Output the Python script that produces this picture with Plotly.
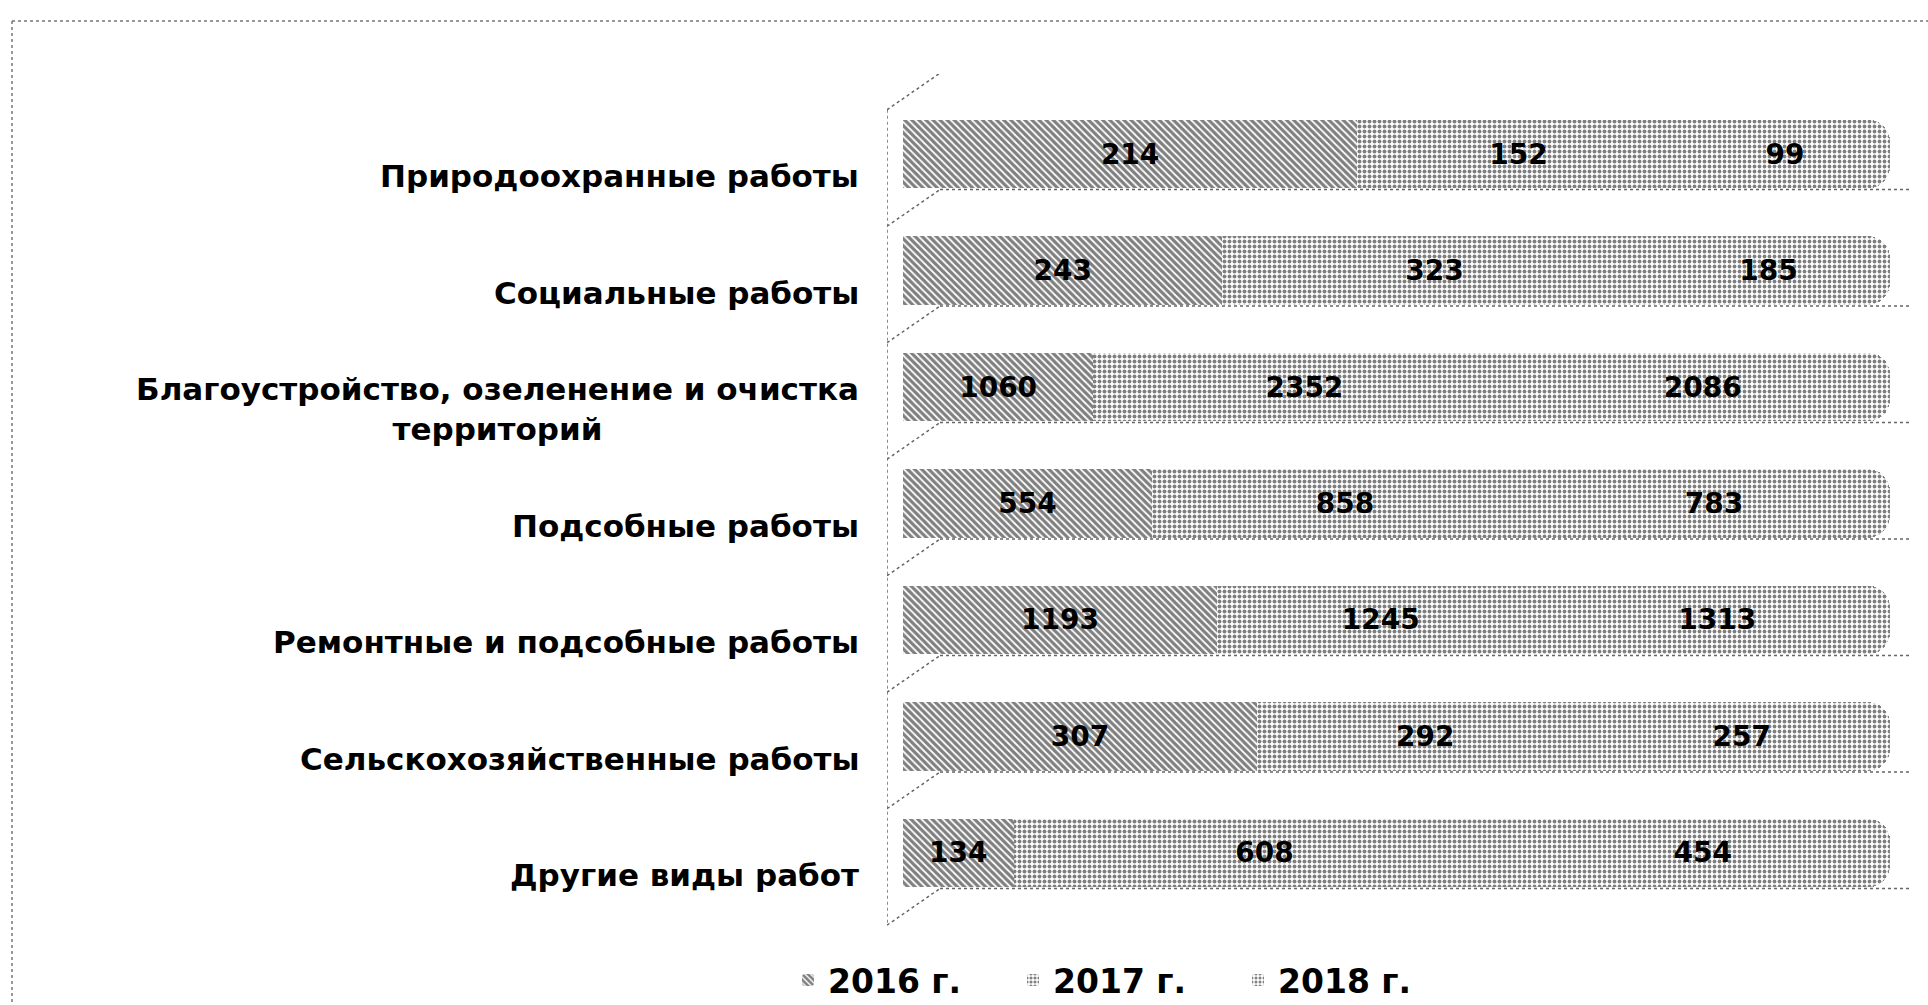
import plotly.graph_objects as go

categories = [
    "Природоохранные работы",
    "Социальные работы",
    "Благоустройство, озеленение и очистка<br>территорий",
    "Подсобные работы",
    "Ремонтные и подсобные работы",
    "Сельскохозяйственные работы",
    "Другие виды работ",
]
years = ["2016 г.", "2017 г.", "2018 г."]
v2016 = [214, 243, 1060, 554, 1193, 307, 134]
v2017 = [152, 323, 2352, 858, 1245, 292, 608]
v2018 = [99, 185, 2086, 783, 1313, 257, 454]
series = [v2016, v2017, v2018]

patterns = [
    dict(shape="\\", fgcolor="#000000", bgcolor="#ffffff", size=5, solidity=0.65),
    dict(shape=".", fgcolor="#000000", bgcolor="#ffffff", size=5, solidity=0.5),
    dict(shape=".", fgcolor="#000000", bgcolor="#ffffff", size=5, solidity=0.46),
]

W, H = 1928, 1005
L, R, T, B = 887, 18, 74, 77
pw, ph = W - L - R, H - T - B
FONT = "DejaVu Sans, Arial, sans-serif"

idx = list(range(len(categories)))

fig = go.Figure()
for name, vals, pat in zip(years, series, patterns):
    fig.add_trace(go.Bar(
        y=idx, x=vals, name=name, orientation="h",
        text=[str(v) for v in vals],
        textposition="inside", insidetextanchor="middle",
        constraintext="none", textangle=0,
        textfont=dict(family=FONT, size=28, color="#000000", weight="bold"),
        marker=dict(color="#ffffff", pattern=pat, line=dict(width=0)),
        hoverinfo="skip",
    ))

# category labels (front floor position, centred multi-line)
for i, c in enumerate(categories):
    fig.add_annotation(
        x=-26 / pw, xref="paper", y=i + 0.19, yref="y",
        text=c, showarrow=False, xanchor="right", yanchor="middle",
        align="center", font=dict(family=FONT, size=31, color="#000000", weight="bold"),
    )

# 3D wall/floor dotted lines (decorative)
dot = dict(color="#666666", width=1.5, dash="dot")
x_front, x_back, x_end = -1.62, 3.75, 102.0
for k in range(-1, len(categories)):
    yb = k + 0.305
    yf = k + 0.62
    fig.add_shape(type="line", xref="x", yref="y", x0=x_back, x1=x_end, y0=yb, y1=yb,
                  line=dot, layer="below")
    fig.add_shape(type="line", xref="x", yref="y", x0=x_front, x1=x_back, y0=yf, y1=yb,
                  line=dot, layer="below")
fig.add_shape(type="line", xref="x", yref="y", x0=x_front, x1=x_front,
              y0=-0.38, y1=len(categories) - 1 + 0.62, line=dot, layer="below")

# outer dotted frame (top and left)
fig.add_shape(type="line", xref="paper", yref="paper",
              x0=(12 - L) / pw, x1=(W - L) / pw, y0=(H - B - 21) / ph, y1=(H - B - 21) / ph,
              line=dict(color="#777777", width=1.5, dash="dot"))
fig.add_shape(type="line", xref="paper", yref="paper",
              x0=(12 - L) / pw, x1=(12 - L) / pw, y0=(H - B - 21) / ph, y1=(H - B - W) / ph,
              line=dict(color="#777777", width=1.5, dash="dot"))

fig.update_layout(
    width=W, height=H,
    margin=dict(l=L, r=R, t=T, b=B, autoexpand=False),
    barmode="stack", barnorm="percent", bargap=0.41, barcornerradius=22,
    plot_bgcolor="#ffffff", paper_bgcolor="#ffffff",
    font=dict(family=FONT, color="#000000"),
    showlegend=True,
    legend=dict(orientation="h", x=(788 - L) / pw, xanchor="left", y=(H - B - 980) / ph,
                yanchor="middle", font=dict(family=FONT, size=33, color="#000000", weight="bold"),
                itemwidth=30, entrywidth=180, entrywidthmode="pixels", traceorder="normal"),
    xaxis=dict(range=[-1.62, 102.03], showgrid=False, zeroline=False,
               showticklabels=False, showline=False, fixedrange=True),
    yaxis=dict(range=[6.644, -0.687], showgrid=False, zeroline=False,
               showticklabels=False, showline=False, fixedrange=True),
)

fig.write_html("out.html", config={"displayModeBar": False},
               post_script="document.body.style.margin='0px';")
